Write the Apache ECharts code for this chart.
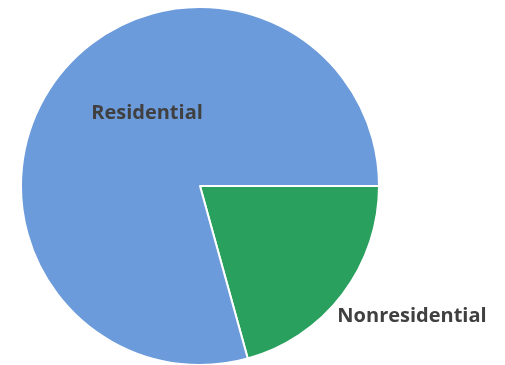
<!DOCTYPE html>
<html>
<head>
<meta charset="utf-8">
<style>
  html, body { margin: 0; padding: 0; background: #ffffff; }
  #chart { width: 505px; height: 365px; }
</style>
<script src="https://cdn.jsdelivr.net/npm/echarts@6/dist/echarts.min.js"></script>
</head>
<body>
<div id="chart"></div>
<script>
// Share of floor space by building type (percent)
const categories = ['Nonresidential', 'Residential'];
const shares = [20.7, 79.3];
const sliceColors = ['#2aa05e', '#6c9bdb'];

// Where each slice's name sits on the canvas
const labelSpots = {
  Nonresidential: [412, 316],
  Residential: [147, 113]
};

const chart = echarts.init(document.getElementById('chart'), null, { renderer: 'canvas' });

chart.setOption({
  animation: false,
  backgroundColor: '#ffffff',
  series: [{
    type: 'pie',
    center: [200, 186],
    radius: [0, 179],
    startAngle: 0,
    clockwise: true,
    silent: true,
    itemStyle: { borderColor: '#ffffff', borderWidth: 2 },
    label: {
      show: true,
      position: 'inside',
      formatter: '{b}',
      color: '#404040',
      fontFamily: 'Open Sans',
      fontWeight: 'bold',
      fontSize: 20
    },
    labelLine: { show: false },
    labelLayout: function (params) {
      const name = categories[params.dataIndex];
      const p = labelSpots[name];
      return { x: p[0], y: p[1], align: 'center', verticalAlign: 'middle' };
    },
    data: categories.map((name, i) => ({
      name: name,
      value: shares[i],
      itemStyle: { color: sliceColors[i] }
    }))
  }]
});
</script>
</body>
</html>
